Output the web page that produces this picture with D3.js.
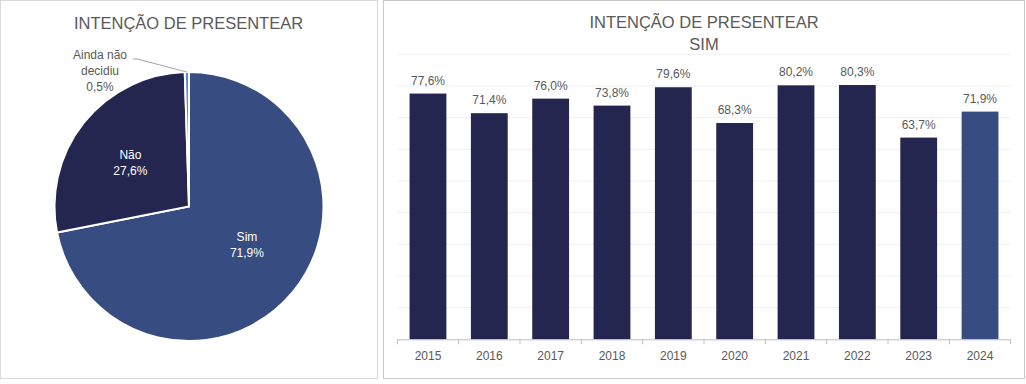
<!DOCTYPE html>
<html>
<head>
<meta charset="utf-8">
<script src="https://cdn.jsdelivr.net/npm/d3@7"></script>
<style>
  body { margin: 0; background: #fff; }
  text { font-family: "Liberation Sans", Arial, sans-serif; }
</style>
</head>
<body>
<div id="chart"></div>
<script>
// pie data
var pieLabels = ["Sim", "Não", "Ainda não decidiu"];
var pieValues = [71.9, 27.6, 0.5];

// bar data
var years = ["2015", "2016", "2017", "2018", "2019", "2020", "2021", "2022", "2023", "2024"];
var simValues = [77.6, 71.4, 76.0, 73.8, 79.6, 68.3, 80.2, 80.3, 63.7, 71.9];
var yTicks = [10, 20, 30, 40, 50, 60, 70, 80, 90];

var fmt = function(v){ return d3.format(".1f")(v).replace(".", ",") + "%"; };
var textColor = "#595959";

var svg = d3.select("#chart").append("svg")
    .attr("width", 1026)
    .attr("height", 384);

// panel frames
svg.append("rect").attr("x", 0.5).attr("y", 0.5).attr("width", 377).attr("height", 378)
    .attr("fill", "none").attr("stroke", "#d9d9d9");
svg.append("rect").attr("x", 383.5).attr("y", 0.5).attr("width", 641).attr("height", 378)
    .attr("fill", "none").attr("stroke", "#c8c8c8");

// ---------- pie ----------
var cx = 189, cy = 206.5, r = 134.5;
var pieColors = ["#374C80", "#24264F", "#5B8BC8"];
var pieData = pieLabels.map(function(d, i){ return {label: d, value: pieValues[i], color: pieColors[i]}; });

svg.append("text")
    .attr("x", 188.5).attr("y", 29)
    .attr("text-anchor", "middle")
    .attr("font-size", "16.5px")
    .attr("fill", textColor)
    .text("INTENÇÃO DE PRESENTEAR");

var pie = d3.pie().sort(null).value(function(d){ return d.value; });
var arc = d3.arc().innerRadius(0).outerRadius(r);
var g = svg.append("g").attr("transform", "translate(" + cx + "," + cy + ")");
var arcs = pie(pieData);

g.selectAll("path")
    .data(arcs)
    .enter().append("path")
    .attr("d", arc)
    .attr("fill", function(d){ return d.data.color; })
    .attr("stroke", "#fff")
    .attr("stroke-width", 2);

// inside labels
g.selectAll(".inlabel")
    .data(arcs.slice(0, 2))
    .enter().append("text")
    .attr("class", "inlabel")
    .attr("transform", function(d){
      var c = arc.centroid(d);
      if (d.index == 0) { c[0] += 6; c[1] -= 6; } else { c[0] -= 6; c[1] -= 3; }
      return "translate(" + c[0] + "," + c[1] + ")";
    })
    .attr("text-anchor", "middle")
    .attr("font-size", "12px")
    .attr("fill", "#fff")
    .each(function(d){
      var t = d3.select(this);
      t.append("tspan").attr("x", 0).attr("dy", "-0.2em").text(d.data.label);
      t.append("tspan").attr("x", 0).attr("dy", "1.35em").text(fmt(d.data.value));
    });

// outside label with leader line
var small = arcs[2];
var edge = d3.arc().innerRadius(r).outerRadius(r).centroid(small);
g.append("polyline")
    .attr("points", [[edge[0], edge[1]], [137 - cx, 59 - cy], [133 - cx, 59 - cy]].join(" "))
    .attr("fill", "none")
    .attr("stroke", "#a6a6a6")
    .attr("stroke-width", 1);
var outLabel = svg.append("text")
    .attr("text-anchor", "middle")
    .attr("font-size", "12px")
    .attr("fill", textColor);
["Ainda não", "decidiu", fmt(small.data.value)].forEach(function(s, i){
  outLabel.append("tspan").attr("x", 100).attr("y", 58.5 + i * 16.3).text(s);
});

// ---------- bars ----------
var plotLeft = 397.3, plotRight = 1010.7, plotTop = 54.3, plotBottom = 339.3;

var x = d3.scaleBand()
    .domain(years)
    .range([plotLeft, plotRight])
    .paddingInner(0.4)
    .paddingOuter(0.2);
var y = d3.scaleLinear()
    .domain([0, 90])
    .range([plotBottom, plotTop]);

svg.append("text")
    .attr("x", 704).attr("y", 28)
    .attr("text-anchor", "middle")
    .attr("font-size", "16.5px")
    .attr("fill", textColor)
    .text("INTENÇÃO DE PRESENTEAR");
svg.append("text")
    .attr("x", 704).attr("y", 50)
    .attr("text-anchor", "middle")
    .attr("font-size", "16.5px")
    .attr("fill", textColor)
    .text("SIM");

// gridlines
svg.selectAll(".grid")
    .data(yTicks)
    .enter().append("line")
    .attr("class", "grid")
    .attr("x1", plotLeft).attr("x2", plotRight)
    .attr("y1", function(d){ return y(d); })
    .attr("y2", function(d){ return y(d); })
    .attr("stroke", "#efefef");

var bars = years.map(function(d, i){ return {year: d, value: simValues[i]}; });

svg.selectAll(".bar")
    .data(bars)
    .enter().append("rect")
    .attr("class", "bar")
    .attr("x", function(d){ return x(d.year); })
    .attr("width", x.bandwidth())
    .attr("y", function(d){ return y(d.value); })
    .attr("height", function(d){ return plotBottom - y(d.value); })
    .attr("fill", function(d, i){ return i == bars.length - 1 ? "#374C80" : "#24264F"; });

svg.selectAll(".val")
    .data(bars)
    .enter().append("text")
    .attr("class", "val")
    .attr("x", function(d){ return x(d.year) + x.bandwidth() / 2; })
    .attr("y", function(d){ return y(d.value) - 9; })
    .attr("text-anchor", "middle")
    .attr("font-size", "12px")
    .attr("fill", textColor)
    .text(function(d){ return fmt(d.value); });

// x axis: labels from d3 axis, ticks on band edges
var axis = svg.append("g")
    .attr("transform", "translate(0," + plotBottom + ")")
    .call(d3.axisBottom(x).tickSize(0).tickPadding(12));
axis.select(".domain").remove();
axis.selectAll("text")
    .attr("font-size", "12px")
    .attr("font-family", "Liberation Sans, Arial, sans-serif")
    .attr("fill", textColor);

axis.append("line")
    .attr("x1", plotLeft).attr("x2", plotRight)
    .attr("y1", 0.5).attr("y2", 0.5)
    .attr("stroke", "#bfbfbf");
axis.selectAll(".edge")
    .data(d3.range(years.length + 1))
    .enter().append("line")
    .attr("class", "edge")
    .attr("x1", function(i){ return plotLeft + i * x.step(); })
    .attr("x2", function(i){ return plotLeft + i * x.step(); })
    .attr("y1", 0).attr("y2", 5)
    .attr("stroke", "#bfbfbf");
</script>
</body>
</html>
